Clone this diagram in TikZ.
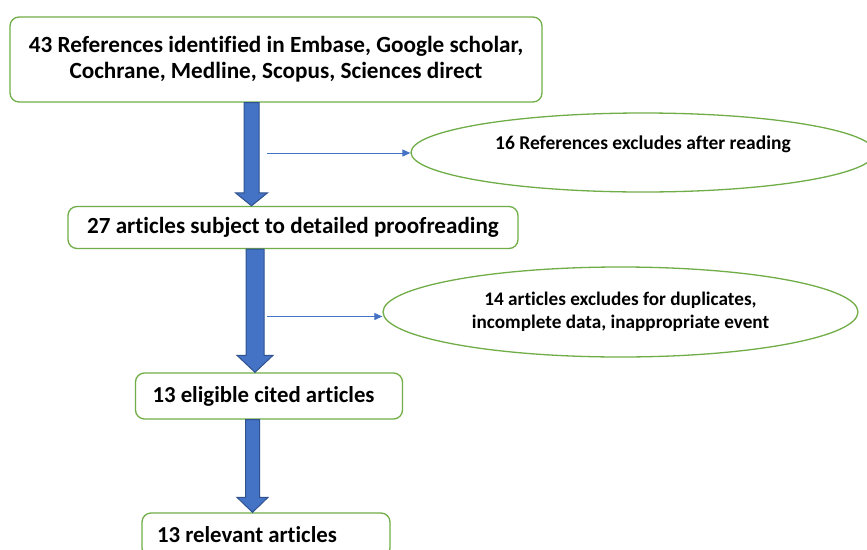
\documentclass[tikz,border=0pt]{standalone}
\usepackage{fontspec}
\setmainfont{Carlito}[Ligatures={NoCommon}]
\usetikzlibrary{calc,shapes.geometric,arrows.meta}
\definecolor{gborder}{HTML}{70AD47}
\definecolor{afill}{HTML}{4472C4}
\definecolor{aedge}{HTML}{2F528F}
\tikzset{
  box/.style={draw=gborder, line width=1.3pt, rounded corners=9pt, fill=white, font=\bfseries, inner sep=0pt},
  oval/.style={draw=gborder, line width=1.3pt, ellipse, fill=white, font=\bfseries, inner sep=0pt},
  fat/.style={fill=afill, draw=aedge, line width=1pt, line join=miter},
  thin/.style={draw=afill, line width=1pt, -{Triangle[length=8pt,width=7pt]}},
}
\newcommand{\fatarrow}[5]{% from, to, shaft half, head half, head length
  \path let \p1=(#1), \p2=(#2) in
    [fat] (\x1-#3,\y1) -- (\x1+#3,\y1) -- (\x1+#3,\y2+#5) -- (\x1+#4,\y2+#5)
    -- (\x1,\y2) -- (\x1-#4,\y2+#5) -- (\x1-#3,\y2+#5) -- cycle;}
\begin{document}
\begin{tikzpicture}[x=1pt,y=-1pt]
\useasboundingbox (0,0) rectangle (867,549);
\clip (0,0) rectangle (867,549);
% boxes
\node[box, minimum width=532pt, minimum height=85pt, align=center, font=\bfseries\fontsize{23.2}{26}\selectfont]
  (b1) at (276,59.5) {43 References identified in Embase, Google scholar,\\Cochrane, Medline, Scopus, Sciences direct};
\node[box, minimum width=450pt, minimum height=42pt, font=\bfseries\fontsize{23.1}{26}\selectfont]
  (b2) at (293,227.5) {27 articles subject to detailed proofreading};
\node[box, minimum width=267pt, minimum height=46pt, font=\bfseries\fontsize{22.8}{26}\selectfont]
  (b3) at (269,396) {\makebox[233pt][l]{13 eligible cited articles}};
\node[box, minimum width=248pt, minimum height=44pt, font=\bfseries\fontsize{22.8}{26}\selectfont]
  (b4) at (266,535) {\makebox[218pt][l]{13 relevant articles}};
% ellipses
\node[oval, minimum width=464pt, minimum height=79pt] (e1) at (643,152.5) {};
\node[font=\bfseries\fontsize{19.5}{23}\selectfont, inner sep=0pt] (e1t) at (643,144) {16 References excludes after reading};
\node[oval, minimum width=475pt, minimum height=90pt, align=center, font=\bfseries\fontsize{19.2}{23}\selectfont]
  (e2) at (620.5,312) {14 articles excludes for duplicates,\\incomplete data, inappropriate event};
% fat arrows
\coordinate (ax1) at (251.5,0);
\coordinate (ax2) at (255,0);
\coordinate (ax3) at (252.5,0);
\fatarrow{b1.south -| ax1}{b2.north -| ax1}{7.5pt}{16pt}{13pt}
\fatarrow{b2.south -| ax2}{b3.north -| ax2}{9pt}{18pt}{17pt}
\fatarrow{b3.south -| ax3}{b4.north -| ax3}{7pt}{15.5pt}{15pt}
% thin arrows
\coordinate (t1) at (267,153);
\coordinate (t2) at (267,316.5);
\draw[thin] (t1) -- (t1 -| e1.west);
\draw[thin] (t2) -- (t2 -| e2.west);
\end{tikzpicture}
\end{document}
